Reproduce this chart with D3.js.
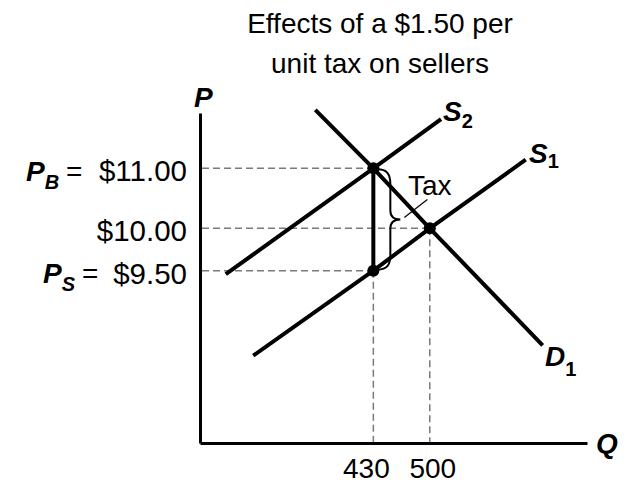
<!DOCTYPE html>
<html>
<head>
<meta charset="utf-8">
<script src="https://cdn.jsdelivr.net/npm/d3@7"></script>
<style>
  body { margin: 0; background: #fff; }
  svg { display: block; font-family: "Liberation Sans", Arial, sans-serif; }
  .dash { stroke: #7a7a7a; stroke-width: 1.5; stroke-dasharray: 7,4; fill: none; }
  .curve { stroke: #000; stroke-width: 4; fill: none; }
  .axis path { stroke: #000; stroke-width: 3; }
</style>
</head>
<body>
<svg id="chart" width="628" height="483"></svg>
<script>
// values (schematic, Q in units, P in $)
const titleLines = ["Effects of a $1.50 per", "unit tax on sellers"];
const priceTicks = [11, 10, 9.5];
const priceLabels = ["$11.00", "$10.00", "$9.50"];
const qtyTicks = [430, 500];
const qtyLabels = ["430", "500"];

const s1 = [[281, 8.76], [430, 9.5], [500, 10], [619, 11.14]];
const s2 = [[247, 9.47], [430, 11], [514, 11.8]];
const d1 = [[358, 11.95], [430, 11], [500, 10], [640, 8.85]];
const dots = [[430, 11], [500, 10], [430, 9.5]];

const svg = d3.select("#chart");

// drawing is not to scale, so the price scale is piecewise
const x = d3.scaleLinear().domain([215, 695]).range([200, 587]);
const y = d3.scaleLinear().domain([8, 9.5, 10, 11, 11.9]).range([443, 270.7, 228.3, 168.3, 113]);

const line = d3.line().x(d => x(d[0])).y(d => y(d[1]));

// title
svg.append("text")
    .attr("text-anchor", "middle")
    .style("font-size", "28px")
    .selectAll("tspan").data(titleLines).enter().append("tspan")
    .attr("x", 380)
    .attr("y", (d, i) => 33 + i * 40)
    .text(d => d);

// dashed guides
svg.selectAll(".hguide").data([[430, 11], [500, 10], [430, 9.5]]).enter().append("line")
    .attr("class", "dash")
    .attr("x1", x(215) + 2).attr("x2", d => x(d[0]))
    .attr("y1", d => y(d[1])).attr("y2", d => y(d[1]));

svg.selectAll(".vguide").data([[430, 9.5], [500, 10]]).enter().append("line")
    .attr("class", "dash")
    .attr("x1", d => x(d[0])).attr("x2", d => x(d[0]))
    .attr("y1", d => y(d[1])).attr("y2", y(8));

// axes
svg.append("g").attr("class", "axis")
    .attr("transform", `translate(${x(215)},0)`)
    .call(d3.axisLeft(y).tickValues([]).tickSizeOuter(0));
svg.append("g").attr("class", "axis")
    .attr("transform", `translate(0,${y(8)})`)
    .call(d3.axisBottom(x).tickValues([]).tickSizeOuter(0));

// curves
[s1, s2, d1].forEach(c => {
    svg.append("path").attr("class", "curve").attr("d", line(c));
});

// tax wedge
svg.append("line")
    .attr("stroke", "#000").attr("stroke-width", 4)
    .attr("x1", x(430)).attr("x2", x(430))
    .attr("y1", y(11)).attr("y2", y(9.5));

const bx = x(430), bTop = y(11), bBot = y(9.5), bMid = (bTop + bBot) / 2;
svg.append("path")
    .attr("fill", "none").attr("stroke", "#000").attr("stroke-width", 2)
    .attr("d", `M${bx + 4},${bTop + 1} C${bx + 14},${bTop + 1} ${bx + 17},${bTop + 6} ${bx + 17},${bTop + 16}`
        + ` L${bx + 17},${bMid - 9} C${bx + 17},${bMid - 2} ${bx + 21},${bMid} ${bx + 27},${bMid}`
        + ` C${bx + 21},${bMid} ${bx + 17},${bMid + 2} ${bx + 17},${bMid + 9}`
        + ` L${bx + 17},${bBot - 16} C${bx + 17},${bBot - 6} ${bx + 14},${bBot - 1} ${bx + 4},${bBot - 1}`);

svg.append("line")
    .attr("stroke", "#000").attr("stroke-width", 1.2)
    .attr("x1", bx + 31).attr("y1", bMid - 2)
    .attr("x2", bx + 54).attr("y2", bMid - 20);

svg.append("text")
    .attr("x", 408).attr("y", 195)
    .style("font-size", "28px")
    .text("Tax");

// points
svg.selectAll(".dot").data(dots).enter().append("circle")
    .attr("cx", d => x(d[0])).attr("cy", d => y(d[1]))
    .attr("r", 6).attr("fill", "#000");

// price labels
priceTicks.forEach((p, i) => {
    svg.append("text")
        .attr("x", 187).attr("y", y(p) + 13)
        .attr("text-anchor", "end")
        .style("font-size", "29.5px")
        .text(priceLabels[i]);
});

function subLabel(px, py, main, sub, subItalic, dy) {
    let t = svg.append("text")
        .attr("x", px).attr("y", py)
        .style("font-size", "28px")
        .style("font-weight", "bold");
    t.append("tspan").style("font-style", "italic").text(main);
    t.append("tspan")
        .attr("dy", dy)
        .style("font-size", "20px")
        .style("font-style", subItalic ? "italic" : "normal")
        .text(sub);
    return t;
}

subLabel(26, y(11) + 12.5, "P", "B", true, 8);
svg.append("text").attr("x", 66).attr("y", y(11) + 12.5).style("font-size", "28px").text("=");
subLabel(43, y(9.5) + 12.5, "P", "S", true, 8);
svg.append("text").attr("x", 82).attr("y", y(9.5) + 12.5).style("font-size", "28px").text("=");

// curve labels
subLabel(443, 121, "S", "2", false, 7);
subLabel(529, 163, "S", "1", false, 5);
subLabel(545, 366, "D", "1", false, 10);

// axis titles
svg.append("text").attr("x", 194).attr("y", 107)
    .style("font-size", "28px").style("font-weight", "bold").style("font-style", "italic")
    .text("P");
svg.append("text").attr("x", 596).attr("y", 453)
    .style("font-size", "28px").style("font-weight", "bold").style("font-style", "italic")
    .text("Q");

// quantity labels
qtyTicks.forEach((q, i) => {
    svg.append("text")
        .attr("x", x(q) + (i === 0 ? -7 : 3)).attr("y", 478)
        .attr("text-anchor", "middle")
        .style("font-size", "28px")
        .text(qtyLabels[i]);
});
</script>
</body>
</html>
